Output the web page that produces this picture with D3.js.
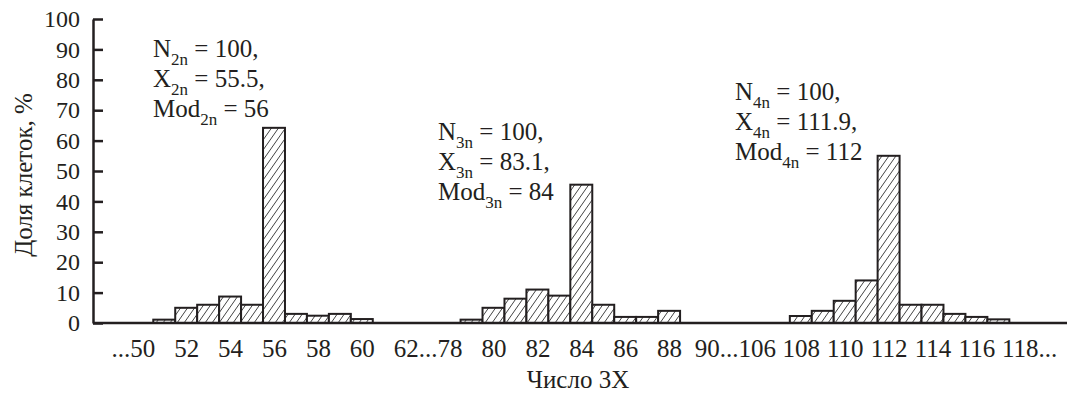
<!DOCTYPE html>
<html>
<head>
<meta charset="utf-8">
<script src="https://cdn.jsdelivr.net/npm/d3@7"></script>
</head>
<body style="margin:0">
<div id="chart"></div>
<script>
// chromosome number 3X and share of cells, %, per ploidy group
var count2n = [51, 52, 53, 54, 55, 56, 57, 58, 59, 60];
var share2n = [1.1, 5, 6, 8.7, 6, 64.2, 3, 2.4, 3, 1.3];
var count3n = [79, 80, 81, 82, 83, 84, 85, 86, 87, 88];
var share3n = [1.1, 5, 8, 11, 9, 45.5, 6, 2, 2, 4];
var count4n = [108, 109, 110, 111, 112, 113, 114, 115, 116, 117];
var share4n = [2.3, 4, 7.3, 14, 55, 6, 6, 3, 2, 1.2];

var xTickValues = [50, 52, 54, 56, 58, 60, 63, 80, 82, 84, 86, 88, 91, 108, 110, 112, 114, 116, 118];
var xTickLabels = ["...50", "52", "54", "56", "58", "60", "62...78", "80", "82", "84", "86", "88",
  "90...106", "108", "110", "112", "114", "116", "118..."];
var yTicks = [0, 10, 20, 30, 40, 50, 60, 70, 80, 90, 100];

var noteGroup = ["2n", "3n", "4n"];
var noteN = ["100", "100", "100"];
var noteMean = ["55.5", "83.1", "111.9"];
var noteMod = ["56", "84", "112"];

var fontFace = "'Liberation Serif', 'Times New Roman', 'Tinos', 'FreeSerif'";
var ink = "#231f20";

var margin = { top: 19, right: 0, bottom: 73, left: 93 },
  width = 1067 - margin.left - margin.right,
  height = 396 - margin.top - margin.bottom;

var bw = 21.95;
// broken axis: three segments of the 3X scale, gaps squeezed to one slot
var axisBreaks = [50, 63, 77, 91, 105, 120];
var axisSlots = [0, 13, 13, 27, 27, 42];

var root = d3.select("#chart")
  .append("svg")
  .attr("width", width + margin.left + margin.right)
  .attr("height", height + margin.top + margin.bottom)
  .style("font-family", fontFace);
var svg = root.append("g")
  .attr("transform", "translate(" + margin.left + "," + margin.top + ")");

var x = d3.scaleLinear()
  .domain(axisBreaks)
  .range(axisSlots.map(function (k) { return 49.3 + k * bw; }));

var y = d3.scaleLinear()
  .domain([0, 100])
  .range([height, 0]);

// hatch segments "/" inside a bar rectangle
var step = 7, lean = 0.7;
function hatch(x0, x1, top, bot) {
  var segs = [], h = bot - top;
  var c = Math.floor((x0 - h * lean) / step) * step;
  for (; c < x1; c += step) {
    var a = Math.max(0, (x0 - c) / lean), b = Math.min(h, (x1 - c) / lean);
    if (b > a) segs.push([c + a * lean, bot - a, c + b * lean, bot - b]);
  }
  return segs;
}

// bars
var groups = [[count2n, share2n], [count3n, share3n], [count4n, share4n]];
groups.forEach(function (g) {
  var data = g[0].map(function (c, i) { return { c: c, s: g[1][i] }; });
  var bars = svg.append("g")
    .selectAll("g")
    .data(data)
    .enter()
    .append("g");
  bars.append("rect")
    .attr("x", function (d) { return x(d.c) - bw / 2; })
    .attr("y", function (d) { return y(d.s); })
    .attr("width", bw)
    .attr("height", function (d) { return y(0) - y(d.s); })
    .attr("fill", "#fff");
  bars.selectAll("line")
    .data(function (d) { return hatch(x(d.c) - bw / 2, x(d.c) + bw / 2, y(d.s), y(0)); })
    .enter()
    .append("line")
    .attr("x1", function (s) { return s[0]; })
    .attr("y1", function (s) { return s[1]; })
    .attr("x2", function (s) { return s[2]; })
    .attr("y2", function (s) { return s[3]; })
    .attr("stroke", "#444")
    .attr("stroke-width", 1);
  bars.append("rect")
    .attr("x", function (d) { return x(d.c) - bw / 2; })
    .attr("y", function (d) { return y(d.s); })
    .attr("width", bw)
    .attr("height", function (d) { return y(0) - y(d.s); })
    .attr("fill", "none")
    .attr("stroke", ink)
    .attr("stroke-width", 2);
});

// y axis
var yAxis = svg.append("g")
  .call(d3.axisLeft(y).tickValues(yTicks).tickSizeInner(-10).tickSizeOuter(0).tickPadding(13));
yAxis.attr("font-family", null).style("font-family", fontFace);
yAxis.selectAll("path, line").attr("stroke", ink).attr("stroke-width", 2.5);
yAxis.selectAll("text")
  .style("font-family", fontFace)
  .style("font-size", "24px")
  .attr("fill", ink);

// x axis
var xAxis = svg.append("g")
  .attr("transform", "translate(0," + height + ")")
  .call(d3.axisBottom(x).tickValues(xTickValues).tickSize(0).tickPadding(16)
    .tickFormat(function (d, i) { return xTickLabels[i]; }));
xAxis.attr("font-family", null).style("font-family", fontFace);
xAxis.select(".domain").remove();
xAxis.selectAll("text")
  .style("font-family", fontFace)
  .style("font-size", "25px")
  .attr("fill", ink)
  .each(function (d, i) {
    var t = d3.select(this);
    if (i === 0) t.attr("text-anchor", "end").attr("x", 12.5);
    if (i === xTickLabels.length - 1) t.attr("text-anchor", "start").attr("x", -18.75);
  });
svg.append("line")
  .attr("x1", 0).attr("x2", width)
  .attr("y1", height).attr("y2", height)
  .attr("stroke", ink).attr("stroke-width", 2.5);

// axis titles
svg.append("text")
  .attr("text-anchor", "middle")
  .attr("transform", "translate(" + (32 - margin.left) + "," + (175 - margin.top) + ") rotate(-90)")
  .style("font-family", fontFace)
  .style("font-size", "25px")
  .attr("fill", ink)
  .text("Доля клеток, %");

svg.append("text")
  .attr("text-anchor", "middle")
  .attr("x", 578 - margin.left)
  .attr("y", 388 - margin.top)
  .style("font-family", fontFace)
  .style("font-size", "25px")
  .attr("fill", ink)
  .text("Число 3X");

// annotations
var noteX = [153, 438, 735];
var noteY = [57, 140, 100];
noteGroup.forEach(function (g, i) {
  var lines = [["N", " = " + noteN[i] + ","], ["X", " = " + noteMean[i] + ","], ["Mod", " = " + noteMod[i]]];
  lines.forEach(function (l, j) {
    var t = svg.append("text")
      .attr("x", noteX[i] - margin.left)
      .attr("y", noteY[i] + j * 30 - margin.top)
      .style("font-family", fontFace)
      .style("font-size", "25px")
      .attr("fill", ink);
    t.append("tspan").text(l[0]);
    t.append("tspan").attr("dy", 8).style("font-size", "17px").text(g);
    t.append("tspan").attr("dy", -8).text(l[1]);
  });
});
</script>
</body>
</html>
